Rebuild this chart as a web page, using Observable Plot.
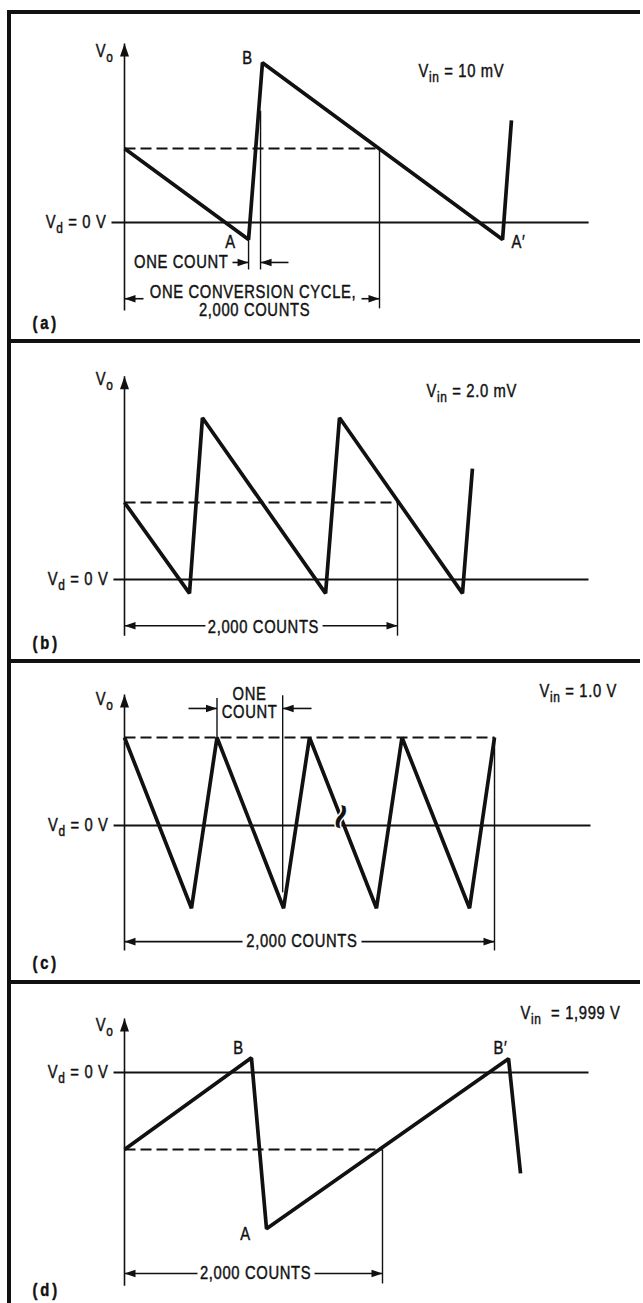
<!DOCTYPE html>
<html><head><meta charset="utf-8">
<script src="https://cdn.jsdelivr.net/npm/d3@7"></script>
<script src="https://cdn.jsdelivr.net/npm/@observablehq/plot@0.6"></script>
<style>
body{margin:0;background:#fff;}
#page{position:relative;width:643px;height:1303px;overflow:hidden;background:#fff;}
.hb{position:absolute;left:7px;width:633px;height:4px;background:#111;}
.vb{position:absolute;left:7px;top:10px;width:4px;bottom:0;background:#111;}
</style></head><body><div id="page"></div>
<script>
// ---- text ----
const panelLetters = ["(a)", "(b)", "(c)", "(d)"];
const vinLabels = ["V_{in} = 10 mV", "V_{in} = 2.0 mV", "V_{in} = 1.0 V", "V_{in}\u00a0 = 1,999 V"];
const voLabel = "V_{o}";
const vdLabel = "V_{d} = 0 V";
const countsLabel = "2,000 COUNTS";
const cycleLabel = "ONE CONVERSION CYCLE,";
const oneCountLabel = "ONE COUNT";
const oneCountStacked = "ONE\nCOUNT";

// ---- waveforms: time in counts, integrator output (1 = starting level, 0 = Vd) ----
const waveA_counts = [0, 973, 1082, 2965, 3035];
const waveA_volts  = [1, -0.23, 2.16, -0.23, 1.38];
const waveB_counts = [0, 476, 571, 1473, 1575, 2476, 2549];
const waveB_volts  = [1, -0.18, 2.10, -0.18, 2.10, -0.18, 1.44];
const waveC_counts = [0, 362, 500, 860, 1000, 1362, 1500, 1865, 2000];
const waveC_volts  = [1, -0.94, 1, -0.94, 1, -0.94, 1, -0.94, 1];
const waveD_counts = [0, 984, 1101, 2977, 3070];
const waveD_volts  = [-1, 0.19, -2.03, 0.18, -1.31];

// labelled points (index into waveform)
const pointsA_names = ["A", "B", "A\u2032"];
const pointsA_index = [1, 2, 3];
const pointsD_names = ["B", "A", "B\u2032"];
const pointsD_index = [1, 2, 3];

const FONT = '"Liberation Sans", Arial, Helvetica, sans-serif';
const INK = "#111";
const SQUEEZE = 0.82;

const triUp = {draw(c){c.moveTo(0,0);c.lineTo(-4.5,13);c.lineTo(4.5,13);c.closePath();}};
const triRight = {draw(c){c.moveTo(0,0);c.lineTo(-11,-3.8);c.lineTo(-11,3.8);c.closePath();}};
const triLeft = {draw(c){c.moveTo(0,0);c.lineTo(11,-3.8);c.lineTo(11,3.8);c.closePath();}};

const layouts = [
  {top:0, height:341, x2000:379, vdY:222, refY:148, ref:1,
   wave:[waveA_counts, waveA_volts], axis:[-1.19, 2.42], vd:[-102, 3640], voY:2.31, vin:[2306, 2.05], letterDy:-18,
   ext:[[2000,1,-1.16],[973,-0.23,-0.635],[1067,1.51,-0.635]],
   arrows:[[847,973,-0.54],[1286,1067,-0.54],[149,0,-1.03],[1859,2000,-1.03]],
   texts:[{t:816,v:-0.54,s:oneCountLabel,anchor:"end"},{t:1008,v:-0.946,s:cycleLabel,anchor:"middle"},{t:1020,v:-1.19,s:countsLabel,anchor:"middle"}],
   points:{names:pointsA_names, index:pointsA_index, off:[[-18,3],[-15,-4],[16,3]]}},
  {top:341, height:320, x2000:397, vdY:238, refY:161, ref:1,
   wave:[waveB_counts, waveB_volts], axis:[-0.73, 2.64], vd:[-81, 3399], voY:2.60, vin:[2212, 2.45], letterDy:-18,
   ext:[[2000,1,-0.73]],
   arrows:[[593,0,-0.60],[1451,2000,-0.60]],
   texts:[{t:1018,v:-0.62,s:countsLabel,anchor:"middle"}]},
  {top:661, height:321, x2000:494, vdY:164, refY:76, ref:1,
   wave:[waveC_counts, waveC_volts], axis:[-1.42, 1.49], vd:[-59, 2519], voY:1.43, vin:[2243, 1.53], letterDy:-19,
   ext:[[2000,1,-1.42],[500,1.45,1],[855,1.48,-0.76]],
   arrows:[[346,500,1.33],[1011,855,1.33],[638,0,-1.32],[1281,2000,-1.32]],
   texts:[{t:676,v:1.386,s:oneCountStacked,anchor:"middle"},{t:959,v:-1.32,s:countsLabel,anchor:"middle"}],
   squiggle:[1168, 0.1]},
  {top:982, height:321, x2000:382, vdY:90, refY:167, ref:-1,
   wave:[waveD_counts, waveD_volts], axis:[-2.77, 0.70], vd:[-85, 3597], voY:0.62, vin:[3070, 0.766], letterDy:-13,
   ext:[[2000,-1,-2.74]],
   arrows:[[566,0,-2.61],[1473,2000,-2.61]],
   texts:[{t:1016,v:-2.61,s:countsLabel,anchor:"middle"}],
   points:{names:pointsD_names, index:pointsD_index, off:[[-13,-10],[-21,5],[-8,-10]]}}
];

function subscripts(svg) {
  d3.select(svg).selectAll("text").each(function() {
    if (this.querySelector("tspan")) return;
    const s = this.textContent;
    const m = s.match(/^(.*?)_\{(.*?)\}(.*)$/);
    if (!m) return;
    const t = d3.select(this);
    t.text(null);
    t.append("tspan").text(m[1]);
    t.append("tspan").attr("dy", 5).attr("font-size", "14.5px").text(m[2]);
    if (m[3]) t.append("tspan").attr("dy", -5).text(m[3]);
  });
}

// emulate a condensed face by squeezing each text run horizontally
function condense(svg) {
  svg.querySelectorAll("text").forEach(t => {
    if (t.classList.contains("nosqueeze")) return;
    const lines = Array.from(t.querySelectorAll("tspan")).filter(s => s.hasAttribute("x"));
    const runs = lines.length ? lines : [t];
    runs.forEach(r => {
      const w = r.getComputedTextLength();
      if (w > 0) {
        r.setAttribute("textLength", (w * SQUEEZE).toFixed(2));
        r.setAttribute("lengthAdjust", "spacingAndGlyphs");
      }
    });
  });
}

const FS = 18;
function build(L, letter, vin) {
  const wave = L.wave[0].map((t, i) => ({t, v: L.wave[1][i]}));
  const ext = L.ext.map(([t, v1, v2]) => ({t, v1, v2}));
  const arr = L.arrows.map(([t1, t2, v]) => ({t1, t2, v}));
  const txt = {fill: INK, fontFamily: FONT, fontSize: FS, stroke: INK, strokeWidth: 0.45};
  const marks = [
    Plot.link([L.vd], {x1: d => d[0], x2: d => d[1], y1: () => 0, y2: () => 0, stroke: INK, strokeWidth: 1.8}),
    Plot.link([L.axis], {x1: () => 0, x2: () => 0, y1: d => d[0], y2: d => d[1], stroke: INK, strokeWidth: 1.6}),
    Plot.dot([L.axis], {x: () => 0, y: d => d[1], symbol: triUp, fill: INK, stroke: "none"}),
    Plot.link([L.ref], {x1: () => 0, x2: () => 2000, y1: d => d, y2: d => d, stroke: INK, strokeWidth: 1.8, strokeDasharray: "11,5"}),
    Plot.link(ext, {x1: "t", x2: "t", y1: "v1", y2: "v2", stroke: INK, strokeWidth: 1.4}),
    Plot.link(arr, {x1: "t1", x2: "t2", y1: "v", y2: "v", stroke: INK, strokeWidth: 1.6}),
    Plot.dot(arr.filter(d => d.t2 > d.t1), {x: "t2", y: "v", symbol: triRight, fill: INK, stroke: "none"}),
    Plot.dot(arr.filter(d => d.t2 < d.t1), {x: "t2", y: "v", symbol: triLeft, fill: INK, stroke: "none"}),
    Plot.line(wave, {x: "t", y: "v", stroke: INK, strokeWidth: 3.7, strokeLinejoin: "miter", strokeLinecap: "butt"}),
    Plot.text([voLabel], {x: () => 0, y: () => L.voY, text: d => d, textAnchor: "end", dx: -11, ...txt}),
    Plot.text([vdLabel], {x: () => L.vd[0], y: () => 0, text: d => d, textAnchor: "end", dx: -5, ...txt}),
    Plot.text([vin], {x: () => L.vin[0], y: () => L.vin[1], text: d => d, textAnchor: "start", ...txt}),
    Plot.text([letter], {frameAnchor: "bottom-left", lineAnchor: "middle", text: d => d, textAnchor: "start", dx: 32, dy: L.letterDy, fontWeight: "bold", ...txt})
  ];
  for (const T of L.texts) {
    marks.push(Plot.text([T], {x: "t", y: "v", text: "s", textAnchor: T.anchor, lineHeight: 1.0, ...txt}));
  }
  if (L.points) {
    L.points.names.forEach((name, j) => {
      const p = wave[L.points.index[j]];
      marks.push(Plot.text([p], {x: "t", y: "v", text: () => name, dx: L.points.off[j][0], dy: L.points.off[j][1], ...txt}));
    });
  }
  if (L.squiggle) {
    marks.push(Plot.text([L.squiggle], {x: d => d[0], y: d => d[1], text: () => "~", rotate: -70, fontSize: 36, fontWeight: "bold", fill: INK, stroke: "white", strokeWidth: 3, paintOrder: "stroke", fontFamily: "DejaVu Sans"}));
  }
  const svg = Plot.plot({
    width: 643, height: L.height, margin: 0,
    x: {domain: [0, 2000], range: [124, L.x2000], axis: null},
    y: {domain: [0, L.ref], range: [L.vdY, L.refY], axis: null},
    style: {background: "transparent", overflow: "visible"},
    marks
  });
  subscripts(svg);
  svg.style.position = "absolute";
  svg.style.left = "0px";
  svg.style.top = L.top + "px";
  svg.style.letterSpacing = "0.8px";
  svg.style.fontFamily = FONT;
  svg.querySelectorAll("text").forEach(t => {
    if (t.textContent === "~") { t.classList.add("nosqueeze"); t.style.letterSpacing = "0px"; }
    if (/^\(.\)$/.test(t.textContent)) t.style.letterSpacing = "3.5px";
  });
  return svg;
}

const page = document.getElementById("page");
layouts.forEach((L, i) => {
  const svg = build(L, panelLetters[i], vinLabels[i]);
  page.appendChild(svg);
  condense(svg);
});
[12, 341, 661, 982].forEach(y => {
  const d = document.createElement("div");
  d.className = "hb"; d.style.top = (y - 2) + "px"; page.appendChild(d);
});
const vb = document.createElement("div"); vb.className = "vb"; page.appendChild(vb);
</script>
</body></html>
